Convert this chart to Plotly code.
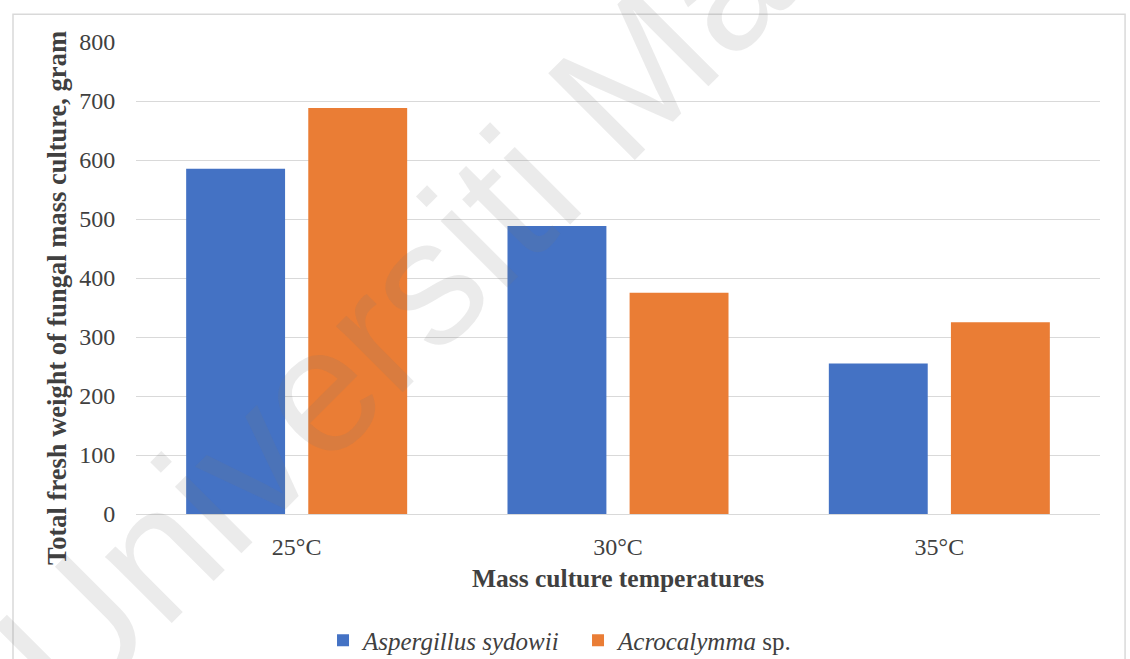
import plotly.graph_objects as go

# Fresh weight (g) of fungal mass culture at each incubation temperature
temperatures = ["25°C", "30°C", "35°C"]
aspergillus_sydowii = [585, 488, 255]
acrocalymma_sp = [688, 375, 325]
y_ticks = [0, 100, 200, 300, 400, 500, 600, 700, 800]

BLUE = "#4472C4"
ORANGE = "#EA7D35"
SERIF = "Liberation Serif, Times New Roman, serif"
TEXT = "#404040"

fig = go.Figure()
fig.add_trace(go.Bar(
    x=temperatures, y=aspergillus_sydowii,
    name="<i>Aspergillus sydowii</i>",
    marker=dict(color=BLUE, line=dict(width=0)),
))
fig.add_trace(go.Bar(
    x=temperatures, y=acrocalymma_sp,
    name="<i>Acrocalymma</i> sp.",
    marker=dict(color=ORANGE, line=dict(width=0)),
))

fig.update_layout(
    width=1130, height=659,
    margin=dict(l=136, r=30, t=42, b=145, autoexpand=False),
    paper_bgcolor="white", plot_bgcolor="white",
    barmode="group", bargap=0.24, bargroupgap=0.19,
    font=dict(family=SERIF, size=24, color=TEXT),
    showlegend=True,
    legend=dict(
        orientation="h", x=0.194, xanchor="left", y=-0.268, yanchor="middle",
        font=dict(family=SERIF, size=25, color=TEXT),
        itemwidth=30, traceorder="normal", entrywidth=210,
    ),
    xaxis=dict(
        showgrid=False, showline=False, zeroline=False, automargin=False,
        ticks="outside", ticklen=11, tickcolor="rgba(0,0,0,0)",
        tickfont=dict(family=SERIF, size=24, color=TEXT),
    ),
    yaxis=dict(
        range=[0, 800], tickvals=y_ticks, automargin=False,
        showgrid=True, gridcolor="#d9d9d9", gridwidth=1,
        zeroline=True, zerolinecolor="#d9d9d9", zerolinewidth=1,
        showline=False,
        ticks="outside", ticklen=15, tickcolor="rgba(0,0,0,0)",
        tickfont=dict(family=SERIF, size=24, color=TEXT),
    ),
)

# Axis titles
fig.add_annotation(
    text="<b>Mass culture temperatures</b>", xref="paper", yref="paper",
    x=0.5, y=-0.1356, xanchor="center", yanchor="middle", showarrow=False,
    font=dict(family=SERIF, size=25.5, color=TEXT),
)
fig.add_annotation(
    text="<b>Total fresh weight of fungal mass culture, gram</b>",
    xref="paper", yref="paper", x=-0.082, y=0.4576,
    xanchor="center", yanchor="middle", showarrow=False, textangle=-90,
    font=dict(family=SERIF, size=26.5, color=TEXT),
)

# Outer chart frame
fig.add_shape(
    type="rect", xref="paper", yref="paper",
    x0=-0.1276, x1=1.026, y0=-0.34, y1=1.059,
    line=dict(color="#d9d9d9", width=1.5), fillcolor="rgba(0,0,0,0)",
    layer="below",
)

# Institutional watermark across the chart
fig.add_annotation(
    text="Universiti Malaya", xref="paper", yref="paper",
    x=0.385, y=0.665, xanchor="center", yanchor="middle",
    showarrow=False, textangle=-45,
    font=dict(family="Liberation Sans", size=178,
              color="rgba(120,120,120,0.15)"),
)

fig.write_html("out.html")
